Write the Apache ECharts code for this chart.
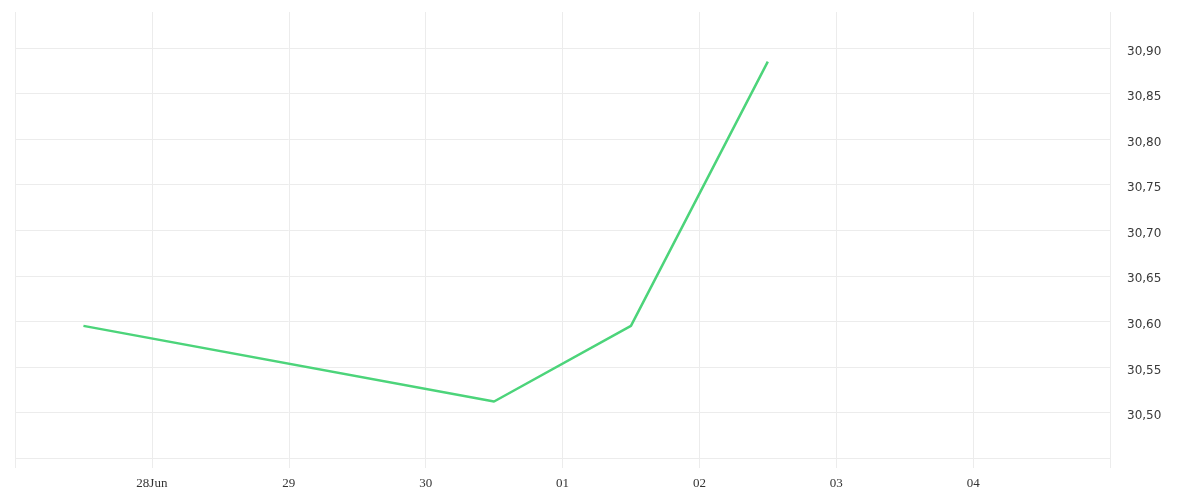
<!DOCTYPE html>
<html>
<head>
<meta charset="utf-8">
<script src="https://cdn.jsdelivr.net/npm/echarts@6/dist/echarts.min.js"></script>
<style>html,body{margin:0;padding:0;background:#fff;}#c{width:1200px;height:500px;}</style>
</head>
<body>
<div id="c"></div>
<script>
// Data
var dates = ['2018-06-27T12:00', '2018-06-30T12:00', '2018-07-01T12:00', '2018-07-02T12:00'];
var values = [30.595, 30.512, 30.595, 30.885];
var xTickLabels = ['', '28Jun', '29', '30', '01', '02', '03', '04', ''];
var xStart = '2018-06-27';
var xEnd = '2018-07-05';
var yMin = 30.45, yMax = 30.90, yStep = 0.05;

var DAY = 86400000;
function toMs(s) {
  var p = s.split('T');
  var d = p[0].split('-').map(Number);
  var h = p[1] ? Number(p[1].split(':')[0]) : 0;
  return Date.UTC(d[0], d[1] - 1, d[2], h);
}
var xMin = toMs(xStart), xMax = toMs(xEnd);
var seriesData = dates.map(function (d, i) { return [toMs(d), values[i]]; });

var chart = echarts.init(document.getElementById('c'));
chart.setOption({
  animation: false,
  grid: [
    { left: 15, right: 90, top: 12, bottom: 32 },
    { left: 15, right: 90, top: 48, bottom: 42 }
  ],
  xAxis: [
    {
      gridIndex: 0, type: 'value', min: xMin, max: xMax, interval: DAY,
      axisLine: { show: false }, axisTick: { show: false },
      splitLine: { show: true, lineStyle: { color: '#ececec', width: 1 } },
      axisLabel: {
        margin: 9, color: '#333', fontFamily: 'Liberation Serif', fontSize: 13,
        showMinLabel: true, showMaxLabel: true,
        formatter: function (v) {
          var i = Math.round((v - xMin) / DAY);
          return xTickLabels[i] || '';
        }
      }
    },
    {
      gridIndex: 1, type: 'value', min: xMin, max: xMax, interval: DAY, show: false,
      splitLine: { show: false }
    }
  ],
  yAxis: [
    { gridIndex: 0, type: 'value', show: false, splitLine: { show: false } },
    {
      gridIndex: 1, type: 'value', position: 'right', min: yMin, max: yMax, interval: yStep,
      axisLine: { show: false }, axisTick: { show: false },
      splitLine: { show: true, lineStyle: { color: '#ececec', width: 1 } },
      axisLabel: {
        margin: 17, color: '#3a3a3a', fontFamily: 'DejaVu Sans', fontSize: 12,
        showMinLabel: false,
        formatter: function (v) { return '{a|' + v.toFixed(2).replace('.', ',') + '}'; },
        rich: {
          a: { color: '#3a3a3a', fontFamily: 'DejaVu Sans', fontSize: 12, padding: [7, 0, 0, 0] }
        }
      }
    }
  ],
  series: [{
    type: 'line', xAxisIndex: 1, yAxisIndex: 1, data: seriesData,
    showSymbol: false, smooth: false,
    lineStyle: { color: '#4cd47a', width: 2.5 }
  }]
});
</script>
</body>
</html>
